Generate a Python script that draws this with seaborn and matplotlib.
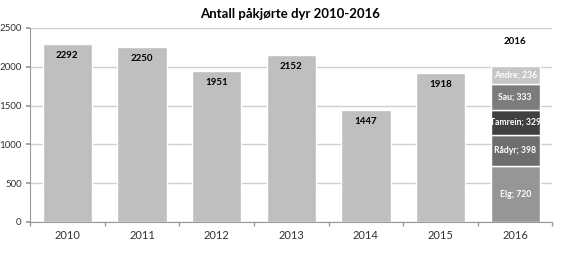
import matplotlib
matplotlib.use("Agg")
import matplotlib.pyplot as plt
import seaborn as sns
import pandas as pd
from matplotlib.ticker import FixedLocator

years = ["2010", "2011", "2012", "2013", "2014", "2015", "2016"]
totals = [2292, 2250, 1951, 2152, 1447, 1918]
species = ["Elg", "Rådyr", "Tamrein", "Sau", "Andre"]
species_2016 = [720, 398, 329, 333, 236]
species_colors = ["#969696", "#6e6e6e", "#404040", "#7c7c7c", "#c6c6c6"]
yticks = [0, 500, 1000, 1500, 2000, 2500]

sns.set_theme(style="white")
plt.rcParams['font.family'] = ['Lato', 'DejaVu Sans']

fig = plt.figure(figsize=(5.63, 2.54), dpi=100)
ax = fig.add_axes([0.0533, 0.126, 0.928, 0.764])

df = pd.DataFrame({"year": years[:-1], "count": totals})
sns.barplot(data=df, x="year", y="count", order=years, color="#bfbfbf",
            width=0.66, saturation=1, ax=ax, zorder=2)

pos16 = years.index("2016")
bottom = 0
for name, val, col in zip(species, species_2016, species_colors):
    ax.bar(pos16, val, bottom=bottom, width=0.66, color=col, zorder=2)
    ax.text(pos16, bottom + val / 2, f"{name}; {val}", ha="center", va="center",
            color="white", fontsize=6.2, fontweight="bold", zorder=3)
    bottom += val
ax.text(pos16, 2320, "2016", ha="center", va="center", fontsize=7,
        fontweight="bold", color="black")

for i, v in enumerate(totals):
    ax.text(i, v - 150, str(v), ha="center", va="center", fontsize=7,
            fontweight="bold", color="black", zorder=3)

ax.set_xlim(-0.5, 6.5)
ax.set_ylim(0, 2500)
ax.set_yticks(yticks)
ax.yaxis.grid(True, color="#cfcfcf", linewidth=1, zorder=0)
ax.set_axisbelow(True)
ax.set_xlabel("")
ax.set_ylabel("")
for s in ["top", "right"]:
    ax.spines[s].set_visible(False)
for s in ["left", "bottom"]:
    ax.spines[s].set_color("#999999")
    ax.spines[s].set_linewidth(0.8)
ax.tick_params(axis="x", which="major", length=0, labelsize=8, pad=6, colors="#333333")
ax.xaxis.set_minor_locator(FixedLocator([i - 0.5 for i in range(8)]))
ax.tick_params(axis="x", which="minor", length=3, color="#999999", bottom=True)
ax.tick_params(axis="y", length=3, color="#999999", left=True, labelsize=7, pad=3)
ax.tick_params(axis="y", colors="#999999", labelcolor="#333333")

fig.text(0.515, 0.945, "Antall påkjørte dyr 2010-2016", ha="center", va="center",
         fontsize=9.5, fontweight="bold", color="black")

fig.savefig("out.png", dpi=100)
